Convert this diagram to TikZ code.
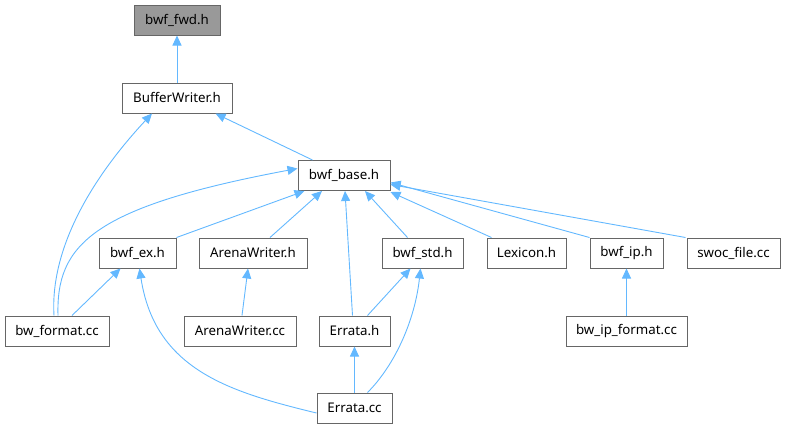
\documentclass[tikz,border=0pt]{standalone}
\usepackage{fontspec}
\setmainfont{Noto Sans}
\usetikzlibrary{arrows.meta}
\definecolor{edgeblue}{HTML}{63B8FF}
\definecolor{boxgray}{HTML}{666666}
\definecolor{curgray}{HTML}{999999}
\tikzset{
  file/.style={draw=boxgray, line width=1pt, fill=white, minimum height=30pt, inner sep=0pt, font=\fontsize{13.3}{15}\selectfont},
  dep/.style={draw=edgeblue, line width=0.9pt, -{Triangle[length=10pt,width=9pt]}}
}
\begin{document}
\begin{tikzpicture}[x=1pt,y=-1pt]
        \useasboundingbox (0,0) rectangle (785,429);
        \node[file, fill=curgray, minimum width=86pt] (fwd) at (177,20) {bwf\_fwd.h};
        \node[file, minimum width=110pt] (bufw) at (177,98) {BufferWriter.h};
        \node[file, minimum width=92pt] (base) at (344,175.5) {bwf\_base.h};
        \node[file, minimum width=77pt] (ex) at (137.5,253) {bwf\_ex.h};
        \node[file, minimum width=108pt] (awh) at (253,253) {ArenaWriter.h};
        \node[file, minimum width=81pt] (std) at (422.5,253) {bwf\_std.h};
        \node[file, minimum width=79pt] (lex) at (526.5,253) {Lexicon.h};
        \node[file, minimum width=73pt] (ip) at (626.5,253) {bwf\_ip.h};
        \node[file, minimum width=93pt] (swoc) at (733.5,253) {swoc\_file.cc};
        \node[file, minimum width=104pt] (fmt) at (57,331) {bw\_format.cc};
        \node[file, minimum width=112pt] (awcc) at (240,331) {ArenaWriter.cc};
        \node[file, minimum width=71pt] (errh) at (354.5,331) {Errata.h};
        \node[file, minimum width=121pt] (ipfmt) at (626.5,331) {bw\_ip\_format.cc};
        \node[file, minimum width=75pt] (errcc) at (354.5,408) {Errata.cc};

        \draw[dep] (bufw) -- (fwd);
        \draw[dep] ([xshift=15pt]base.north west) -- ([xshift=-17pt]bufw.south east);
        \draw[dep] ([xshift=-3pt]fmt.north) .. controls (50,250) and (90,180) .. ([xshift=-25pt]bufw.south);
        \draw[dep] ([xshift=1pt]fmt.north) .. controls (56,245) and (92,207) .. ([yshift=7pt]base.west);
        \draw[dep] ([xshift=15pt]fmt.north) -- ([xshift=-17pt]ex.south);
        \draw[dep] (ex.north east) -- ([xshift=7pt]base.south west);
        \draw[dep] ([xshift=17pt]awh.north) -- ([xshift=-22pt]base.south);
        \draw[dep] ([xshift=-15pt]std.north) -- ([xshift=21pt]base.south);
        \draw[dep] ([xshift=-2pt]errh.north) -- ([xshift=1pt]base.south);
        \draw[dep] ([xshift=5pt]lex.north west) -- ([yshift=-1pt]base.south east);
        \draw[dep] (ip.north west) -- ([yshift=-7pt]base.east);
        \draw[dep] ([xshift=-1pt]swoc.north west) -- ([yshift=-9pt]base.east);
        \draw[dep] ([xshift=2pt]awcc.north) -- ([xshift=-5pt]awh.south);
        \draw[dep] ([xshift=13pt]errh.north) -- ([xshift=-12pt]std.south);
        \draw[dep] (errcc) -- (errh);
        \draw[dep] ([yshift=-5pt]errcc.west) .. controls (230,392) and (155,370) .. ([xshift=2pt]ex.south);
        \draw[dep] ([xshift=13pt]errcc.north) .. controls (395,365) and (415,320) .. ([xshift=-2pt]std.south);
        \draw[dep] (ipfmt) -- (ip);
    \end{tikzpicture}
\end{document}
